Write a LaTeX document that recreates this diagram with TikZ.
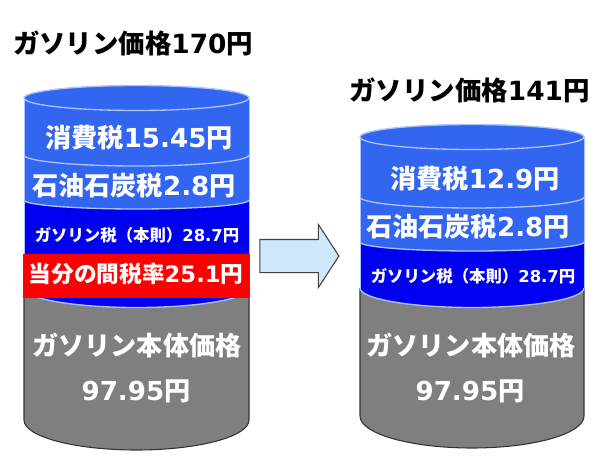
\documentclass[tikz,border=0pt]{standalone}
\usepackage{fontspec}
\usepackage{xcolor}
\usetikzlibrary{shapes.arrows}
\newfontfamily\cjk{Noto Sans CJK JP}
\newfontfamily\digitfont{DejaVu Sans}
\definecolor{TaxBlue}{HTML}{3366F0}
\definecolor{BaseBlue}{HTML}{0000F0}
\definecolor{RimBlue}{HTML}{A9C4FF}
\definecolor{BodyGray}{HTML}{7F7F7F}
\definecolor{ArrowFill}{HTML}{CDE8FA}
\tikzset{TitleNode/.style={inner sep=0pt,text=black,font=\bfseries\fontsize{19.8}{20}\selectfont},
	LabelNode/.style={inner sep=0pt,text=white,font=\bfseries\fontsize{19.6}{20}\selectfont},
	SmallNode/.style={inner sep=0pt,text=white,font=\bfseries\fontsize{12.3}{13}\selectfont},
	Rim/.style={draw=RimBlue,line width=1pt}}
% one barrel: left x, right x, top y, first divider, second divider, blue end, side end, bottom sag
\newcommand{\barrel}[8]{
	\fill[BodyGray] (#1,#6) -- (#1,#7) arc[start angle=180,end angle=0,x radius=(#2-#1)/2,y radius=#8] -- (#2,#6) -- cycle;
	\draw[black!80,line width=.8pt] (#1,#6) -- (#1,#7) arc[start angle=180,end angle=0,x radius=(#2-#1)/2,y radius=#8] -- (#2,#6);
	\fill[BaseBlue] (#1,#5) -- (#1,#6) arc[start angle=180,end angle=0,x radius=(#2-#1)/2,y radius=19.5] -- (#2,#5) -- cycle;
	\draw[Rim] (#1,#6) arc[start angle=180,end angle=0,x radius=(#2-#1)/2,y radius=19.5];
	\fill[TaxBlue] (#1,#3) -- (#1,#5) arc[start angle=180,end angle=0,x radius=(#2-#1)/2,y radius=9] -- (#2,#3) -- cycle;
	\draw[Rim] (#1,#4) arc[start angle=180,end angle=0,x radius=(#2-#1)/2,y radius=11];
	\draw[Rim] (#1,#5) arc[start angle=180,end angle=0,x radius=(#2-#1)/2,y radius=9];
	\draw[RimBlue,line width=.6pt] (#1,#3) -- (#1,#6) (#2,#3) -- (#2,#6);
	\draw[Rim,fill=TaxBlue] ({(#1+#2)/2},#3) ellipse[x radius=(#2-#1)/2,y radius=12.5];
}
\begin{document}
\begin{tikzpicture}[x=0.75pt,y=-0.75pt]
	\useasboundingbox (0,0) rectangle (600,461);
	\fill[white] (0,0) rectangle (600,461);
	%
	\node[TitleNode] (title1) at (133,43) {{\cjk ガソリン価格}{\digitfont 170}{\cjk 円}};
	\node[TitleNode] (title2) at (469.5,90) {{\cjk ガソリン価格}{\digitfont 141}{\cjk 円}};
	%
	\barrel{24}{249}{98}{155}{200}{288}{420}{30}
	\barrel{360}{584}{137}{197}{242}{288}{416}{32}
	%
	\fill[red] (23,254) rectangle (250,298);
	%
	\node[LabelNode] (tax1) at (139,138) {{\cjk 消費税}{\digitfont 15.45}{\cjk 円}};
	\node[LabelNode] (oil1) at (134,186) {{\cjk 石油石炭税}{\digitfont 2.8}{\cjk 円}};
	\node[SmallNode] (gas1) at (137,235) {{\cjk ガソリン税（本則）}{\digitfont 28.7}{\cjk 円}};
	\node[LabelNode,font=\bfseries\fontsize{17}{17}\selectfont] (temp1) at (136,274) {{\cjk 当分の間税率}{\digitfont 25.1}{\cjk 円}};
	\node[LabelNode] (body1) at (137,346) {\cjk ガソリン本体価格};
	\node[LabelNode] (price1) at (136,391) {{\digitfont 97.95}{\cjk 円}};
	%
	\node[LabelNode] (tax2) at (475,179) {{\cjk 消費税}{\digitfont 12.9}{\cjk 円}};
	\node[LabelNode] (oil2) at (468,227) {{\cjk 石油石炭税}{\digitfont 2.8}{\cjk 円}};
	\node[SmallNode] (gas2) at (473,276) {{\cjk ガソリン税（本則）}{\digitfont 28.7}{\cjk 円}};
	\node[LabelNode] (body2) at (471,346) {\cjk ガソリン本体価格};
	\node[LabelNode] (price2) at (470,391) {{\digitfont 97.95}{\cjk 円}};
	%
	\node[single arrow,draw=black!75,fill=ArrowFill,line width=.8pt,minimum width=46.5pt,minimum height=59.25pt,
		single arrow head extend=11.25pt,single arrow tip angle=114,inner xsep=0pt,inner ysep=12pt] (shift) at (294,256) {};
\end{tikzpicture}
\end{document}
